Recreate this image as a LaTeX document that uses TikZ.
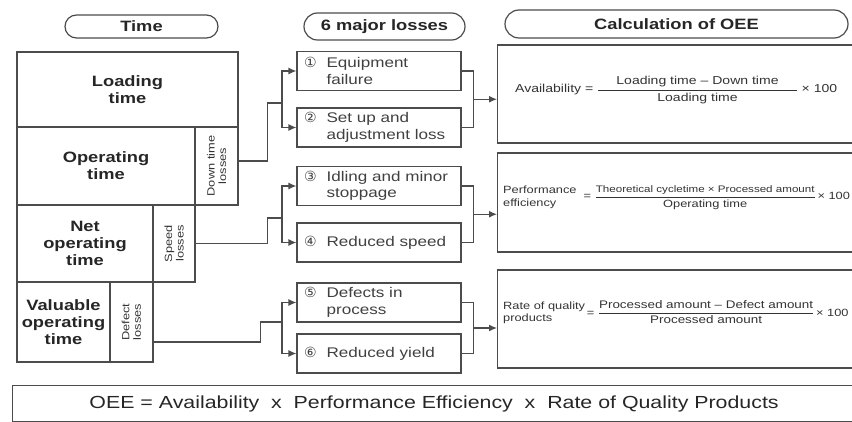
\documentclass[tikz,border=0pt]{standalone}
\usepackage{fontspec}
\usepackage{amsmath}
\setmainfont{Liberation Sans}[FakeStretch=1.22]
\newfontfamily\dvfont{DejaVu Sans}
\usetikzlibrary{arrows.meta,shapes.misc,positioning,calc}

\newcommand{\lossno}[1]{\llap{{\dvfont\fontsize{14}{14}\selectfont #1}\hspace{10pt}}}

\begin{document}
\begin{tikzpicture}[x=1pt,y=-1pt,
  ink/.style={draw=black!70, line width=1.2pt},
  pill/.style={rounded rectangle, ink, inner sep=2pt, text=black!85, font=\fontsize{15}{17}\selectfont\bfseries},
  cell/.style={rectangle, ink, inner sep=0pt, align=center, text=black!85, font=\fontsize{15}{17}\selectfont\bfseries},
  sidetext/.style={rotate=90, align=center, inner sep=0pt, text=black!80, font=\fontsize{10.5}{11.5}\selectfont},
  lossbox/.style={rectangle, ink, minimum width=164, minimum height=39},
  losstext/.style={anchor=west, align=left, inner sep=0pt, text=black!75, font=\fontsize{14}{16.5}\selectfont},
  calcbox/.style={rectangle, ink, minimum width=380, minimum height=98, anchor=west},
  formula/.style={anchor=west, inner sep=0pt, text=black!80},
  arr/.style={-{Latex[length=8pt,width=7pt]}}
  ]

  \useasboundingbox (0,0) rectangle (852,422);
  \clip (0,0) rectangle (852,422);

  \def\bx{379} % x loss boxes
  \def\jx{282} % x left brackets

  %%% headers
  \node [pill, minimum width=157, minimum height=23] (timehd) at (141.5,26.5) {Time};
  \node [pill, minimum width=165, minimum height=27] (losshd) at (384.5,26.5) {6 major losses};
  \node [pill, minimum width=347, minimum height=28] (calchd) at (676.5,24) {Calculation of OEE};

  %%% time table
  \node [cell, minimum width=221, minimum height=75] (load) at (127.5,89.5) {Loading\\time};

  \node [cell, minimum width=178, minimum height=78] (oper) at (106,166) {Operating\\time};
  \node [cell, minimum width=43, minimum height=78] (down) at (216.5,166) {};
  \node [sidetext] (downtxt) at (down) {Down time\\losses};

  \node [cell, minimum width=136, minimum height=77] (net) at (85,243.5) {Net\\operating\\time};
  \node [cell, minimum width=42, minimum height=77] (speed) at (174,243.5) {};
  \node [sidetext] (speedtxt) at (speed) {Speed\\losses};

  \node [cell, minimum width=93, minimum height=80] (val) at (63.5,322) {Valuable\\operating\\time};
  \node [cell, minimum width=43, minimum height=80] (defect) at (131.5,322) {};
  \node [sidetext] (defecttxt) at (defect) {Defect\\losses};

  %%% six losses
  \node [lossbox] (L1) at (\bx,71) {};
  \node [losstext] (L1txt) at ($(L1.west) + (30,0)$) {\lossno{①}Equipment\\failure};
  \node [lossbox] (L2) at (\bx,127.5) {};
  \node [losstext] (L2txt) at ($(L2.west) + (30,0)$) {\lossno{②}Set up and\\adjustment loss};

  \node [lossbox] (L3) at (\bx,186) {};
  \node [losstext] (L3txt) at ($(L3.west) + (30,0)$) {\lossno{③}Idling and minor\\stoppage};
  \node [lossbox] (L4) at (\bx,242.5) {};
  \node [losstext] (L4txt) at ($(L4.west) + (30,0)$) {\lossno{④}Reduced speed};

  \node [lossbox] (L5) at (\bx,302.5) {};
  \node [losstext] (L5txt) at ($(L5.west) + (30,0)$) {\lossno{⑤}Defects in\\process};
  \node [lossbox] (L6) at (\bx,353.5) {};
  \node [losstext] (L6txt) at ($(L6.west) + (30,0)$) {\lossno{⑥}Reduced yield};

  %%% calculation boxes
  \node [calcbox] (C1) at (497,94) {};
  \node [calcbox, minimum height=99] (C2) at (497,202.5) {};
  \node [calcbox] (C3) at (497,319) {};

  \node [formula, font=\fontsize{11.5}{13}\selectfont] (F1) at (515,90)
    {Availability = $\dfrac{\hspace{18pt}\text{Loading time – Down time}\hspace{18pt}}{\text{Loading time}}$ × 100};

  \node [formula, font=\fontsize{10.5}{13}\selectfont] (F2) at (503,197)
    {\begin{tabular}{@{}l@{}}Performance\\efficiency\end{tabular}\ \ =\ $\dfrac{\text{\fontsize{9.5}{11}\selectfont Theoretical cycletime × Processed amount}}{\text{Operating time}}$\,× 100};

  \node [formula, font=\fontsize{10.5}{12}\selectfont] (F3) at (503,313)
    {\begin{tabular}{@{}l@{}}Rate of quality\\products\end{tabular}\,=\ $\dfrac{\text{\fontsize{11}{13}\selectfont Processed amount – Defect amount}}{\text{\fontsize{11}{13}\selectfont Processed amount}}$\,× 100};

  %%% OEE line
  \node [rectangle, ink, minimum width=843, minimum height=36, anchor=north west, text=black!85, font=\fontsize{17.5}{20}\selectfont] (oee) at (12,385)
    {OEE = Availability\ \ x\ \ Performance Efficiency\ \ x\ \ Rate of Quality Products};

  %%% connectors
  %% down time
  \coordinate (J1) at (\jx,103);
  \draw [ink] ([yshift=5pt]down.east) -- ++(29,0) |- (J1);
  \draw [ink, arr] (J1) |- (L1.west);
  \draw [ink, arr] (J1) |- (L2.west);
  \draw [ink] (L1.east) -- ++(12,0) |- (L2.east);
  \coordinate (K1) at ($(L1.east)!0.5!(L2.east) + (12,0)$);
  \draw [ink, arr] (K1) -- (K1 -| C1.west);

  %% speed
  \coordinate (J2) at (\jx,218);
  \draw [ink] (speed.east) -- ++(72,0) |- (J2);
  \draw [ink, arr] (J2) |- (L3.west);
  \draw [ink, arr] (J2) |- (L4.west);
  \draw [ink] (L3.east) -- ++(12,0) |- (L4.east);
  \coordinate (K2) at ($(L3.east)!0.5!(L4.east) + (12,0)$);
  \draw [ink, arr] (K2) -- (K2 -| C2.west);

  %% defect
  \coordinate (J3) at (\jx,322);
  \draw [ink] ([yshift=-20pt]defect.east) -- ++(107,0) |- (J3);
  \draw [ink, arr] (J3) |- (L5.west);
  \draw [ink, arr] (J3) |- (L6.west);
  \draw [ink] (L5.east) -- ++(12,0) |- (L6.east);
  \coordinate (K3) at ($(L5.east)!0.5!(L6.east) + (12,0)$);
  \draw [ink, arr] (K3) -- (K3 -| C3.west);

\end{tikzpicture}
\end{document}
